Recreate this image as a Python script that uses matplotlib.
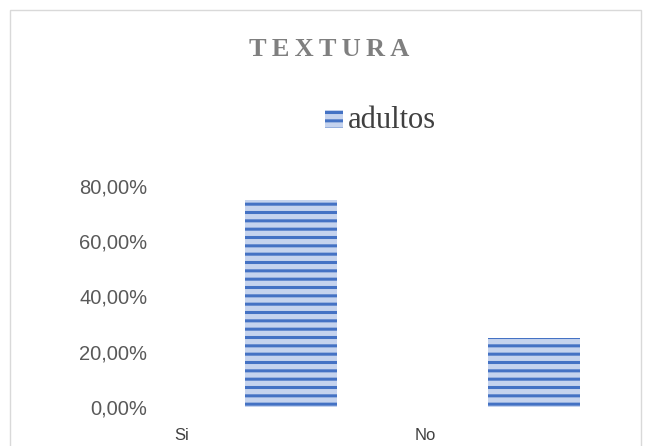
import matplotlib.pyplot as plt
from matplotlib.patches import Rectangle

# survey answers for "textura", share of adults
categories = ['Si', 'No']
adultos = [0.75, 0.25]
yticks = [0.0, 0.2, 0.4, 0.6, 0.8]
ytick_labels = ['0,00%', '20,00%', '40,00%', '60,00%', '80,00%']

blue = '#4472C4'
light = '#c5d3ee'
grey_txt = '#595959'

plt.rcParams['hatch.linewidth'] = 2.2

fig = plt.figure(figsize=(6.46, 4.46), dpi=100)
fig.patch.set_facecolor('white')
# thin frame around the chart area (bottom edge runs past the image)
fig.add_artist(Rectangle((10 / 646, -10 / 446), 631 / 646, 446 / 446,
                         transform=fig.transFigure, fill=False,
                         edgecolor='#d9d9d9', linewidth=1))

ax = fig.add_axes([160 / 646, 39 / 446, 480 / 646, 221 / 446])
x = list(range(len(categories)))
offset = 0.45
width = 0.38
bars = ax.bar([i + offset for i in x], adultos, width=width,
              color=light, edgecolor=blue, hatch='--', linewidth=0)

ax.set_xlim(-0.09, -0.09 + 480 / 243)
ax.set_ylim(0, 0.8)
ax.set_yticks(yticks)
ax.set_yticklabels(ytick_labels, fontsize=14.5, color=grey_txt, family='Liberation Sans')
ax.set_xticks(x)
ax.set_xticklabels(categories, fontsize=12, color='#404040', family='Liberation Sans')
ax.tick_params(length=0)
ax.tick_params(axis='y', pad=9)
ax.tick_params(axis='x', pad=15)
for s in ax.spines.values():
    s.set_visible(False)

title = '\u2009'.join('TEXTURA')
fig.text(329 / 646, 1 - 49 / 446, title, ha='center', va='center', fontsize=19,
         fontweight='bold', family='Liberation Serif', color='#7f7f7f')

# legend
fig.add_artist(Rectangle((325 / 646, 1 - 128 / 446), 18 / 646, 18 / 446,
                         transform=fig.transFigure, facecolor=light,
                         edgecolor=blue, hatch='--', linewidth=0))
fig.text(348 / 646, 1 - 120 / 446, 'adultos', ha='left', va='center',
         fontsize=22, family='Liberation Serif', color='#404040')

fig.savefig('out.png', dpi=100)
